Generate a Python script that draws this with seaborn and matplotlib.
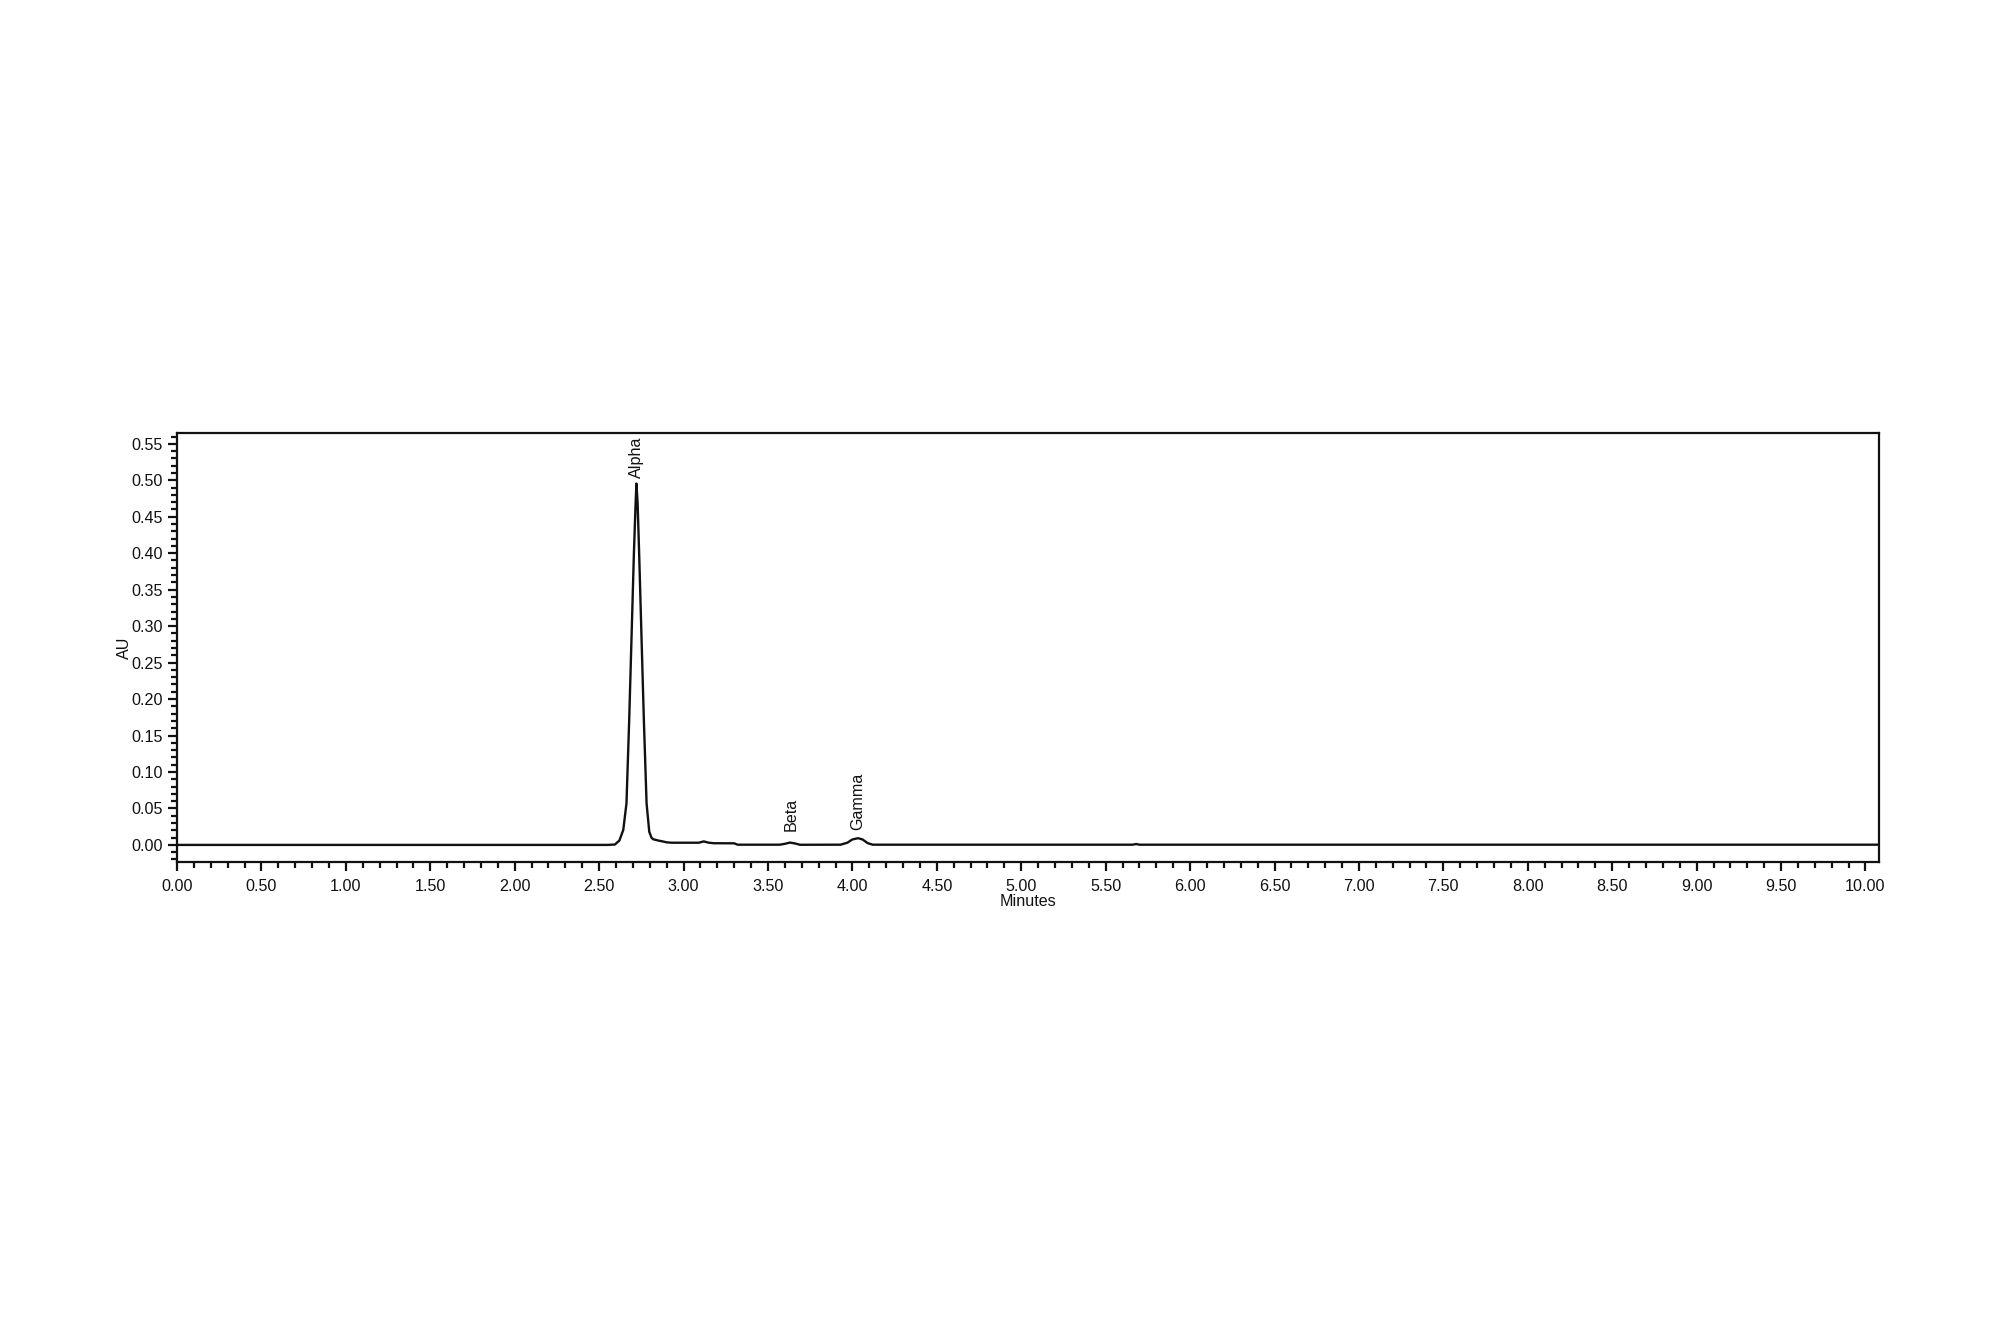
import numpy as np
import pandas as pd
import matplotlib
matplotlib.use("Agg")
import matplotlib.pyplot as plt
from matplotlib.ticker import MultipleLocator, FormatStrFormatter
import seaborn as sns

# ---- data ----
time_min = [0.00, 2.55, 2.593, 2.62, 2.643, 2.662, 2.678, 2.692, 2.706, 2.716, 2.721,
            2.728, 2.737, 2.751, 2.765, 2.781, 2.797, 2.81, 2.82, 2.85, 2.88, 2.90,
            2.93, 3.09, 3.12, 3.15, 3.18, 3.30, 3.32, 3.57, 3.60, 3.63, 3.66, 3.69,
            3.93, 3.97, 4.00, 4.034, 4.06, 4.09, 4.12, 5.66, 5.68, 5.70, 10.08]
absorbance = [0.0000, 0.0000, 0.0005, 0.0060, 0.0205, 0.0570, 0.1710, 0.2850, 0.4000, 0.4680, 0.4955,
              0.4680, 0.4000, 0.2850, 0.1710, 0.0570, 0.0180, 0.0100, 0.0078, 0.0060, 0.0046, 0.0035,
              0.0030, 0.0030, 0.0048, 0.0030, 0.0023, 0.0022, 0.0003, 0.0003, 0.0015, 0.0032, 0.0020, 0.0002,
              0.0003, 0.0030, 0.0075, 0.0092, 0.0075, 0.0025, 0.0003, 0.0003, 0.0012, 0.0003, 0.0003]

peak_names = ["Alpha", "Beta", "Gamma"]
peak_times = [2.721, 3.635, 4.034]
peak_heights = [0.4955, 0.0032, 0.0092]

x_label = "Minutes"
y_label = "AU"

# ---- style ----
sns.set_style("white")
plt.rcParams['font.family'] = ['Liberation Sans', 'DejaVu Sans']
plt.rcParams['axes.linewidth'] = 0.8

FS = 5.8
INK = '#111111'

fig = plt.figure(figsize=(10, 6.665), dpi=200)
ax = fig.add_axes([0.0885, 0.3533, 0.851, 0.3217])

df = pd.DataFrame({"t": time_min, "au": absorbance})
sns.lineplot(data=df, x="t", y="au", ax=ax, color=INK, linewidth=0.85,
             estimator=None, sort=False)

ax.set_xlim(0, 10.08)
ax.set_ylim(-0.0235, 0.5645)

ax.xaxis.set_major_locator(MultipleLocator(0.5))
ax.xaxis.set_minor_locator(MultipleLocator(0.1))
ax.yaxis.set_major_locator(MultipleLocator(0.05))
ax.yaxis.set_minor_locator(MultipleLocator(0.01))
ax.xaxis.set_major_formatter(FormatStrFormatter('%.2f'))
ax.yaxis.set_major_formatter(FormatStrFormatter('%.2f'))

ax.tick_params(axis='both', which='both', bottom=True, left=True, top=False, right=False)
ax.tick_params(axis='both', which='major', direction='out', length=3.2, width=0.8,
               labelsize=FS, color=INK, labelcolor=INK)
ax.tick_params(axis='x', which='major', pad=3.0)
ax.tick_params(axis='y', which='major', pad=1.8)
ax.tick_params(axis='both', which='minor', direction='out', length=2.1, width=0.8,
               color=INK)

for s in ax.spines.values():
    s.set_color(INK)
    s.set_linewidth(0.8)
    s.set_visible(True)

ax.set_xlabel(x_label, fontsize=FS, labelpad=0, color=INK)
ax.set_ylabel(y_label, fontsize=FS, labelpad=0, color=INK)

offsets = [2, 4, 3]
for name, t, h, off in zip(peak_names, peak_times, peak_heights, offsets):
    ax.annotate(name, xy=(t, h), xytext=(0, off), textcoords='offset points',
                rotation=90, ha='center', va='bottom', fontsize=FS, color=INK)

fig.savefig("out.png", dpi=200, facecolor='white')
